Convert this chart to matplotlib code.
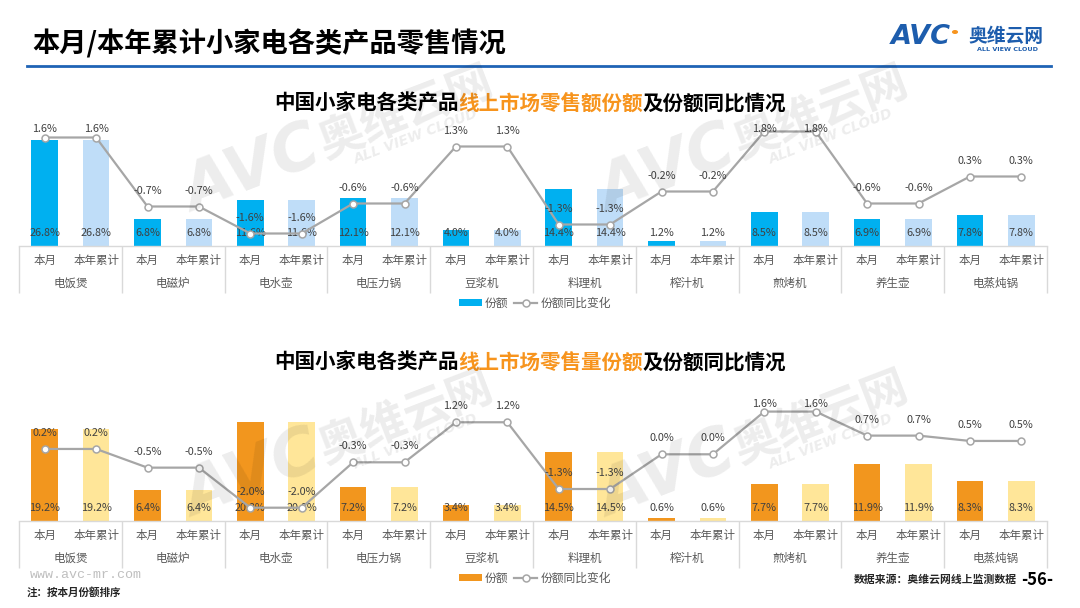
import matplotlib
matplotlib.use('Agg')
import matplotlib.pyplot as plt
import numpy as np
import matplotlib.transforms as mtransforms
from matplotlib.offsetbox import TextArea, HPacker, AnchoredOffsetbox
from matplotlib.lines import Line2D
from matplotlib.patches import Patch, Circle

plt.rcParams['font.family'] = ['Noto Sans CJK SC', 'DejaVu Sans']

# ---------------- data ----------------
categories = ['电饭煲', '电磁炉', '电水壶', '电压力锅', '豆浆机',
              '料理机', '榨汁机', '煎烤机', '养生壶', '电蒸炖锅']
periods = ['本月', '本年累计']

amount_share_month = [26.8, 6.8, 11.6, 12.1, 4.0, 14.4, 1.2, 8.5, 6.9, 7.8]
amount_share_ytd = [26.8, 6.8, 11.6, 12.1, 4.0, 14.4, 1.2, 8.5, 6.9, 7.8]
amount_yoy_month = [1.6, -0.7, -1.6, -0.6, 1.3, -1.3, -0.2, 1.8, -0.6, 0.3]
amount_yoy_ytd = [1.6, -0.7, -1.6, -0.6, 1.3, -1.3, -0.2, 1.8, -0.6, 0.3]

volume_share_month = [19.2, 6.4, 20.8, 7.2, 3.4, 14.5, 0.6, 7.7, 11.9, 8.3]
volume_share_ytd = [19.2, 6.4, 20.8, 7.2, 3.4, 14.5, 0.6, 7.7, 11.9, 8.3]
volume_yoy_month = [0.2, -0.5, -2.0, -0.3, 1.2, -1.3, 0.0, 1.6, 0.7, 0.5]
volume_yoy_ytd = [0.2, -0.5, -2.0, -0.3, 1.2, -1.3, 0.0, 1.6, 0.7, 0.5]

# ---------------- styles ----------------
W, H = 1080, 608
BLUE_M, BLUE_Y = '#00B0F0', '#BFDDF8'
ORANGE_M, ORANGE_Y = '#F2961E', '#FFE699'
LINE_C = '#A6A6A6'
TXT = '#595959'
VAL = '#404040'
TITLE_ORANGE = '#F7941D'
PT = 0.72  # points per pixel at 100 dpi

fig = plt.figure(figsize=(W / 100, H / 100), dpi=100)


def fx(px):
    return px / W


def fy(py):
    return 1 - py / H


def panel(top_px, bottom_px, month, ytd, yoy_m, yoy_y, c_m, c_y,
          bar_ymax, line_ylim, clamp_px, title_parts, title_y, legend_y):
    ax = fig.add_axes([fx(19), fy(bottom_px), fx(1047) - fx(19),
                       (bottom_px - top_px) / H])
    ax.patch.set_alpha(0)
    n = len(categories)
    x = np.arange(2 * n)
    heights = np.ravel(np.column_stack([month, ytd]))
    yoy = np.ravel(np.column_stack([yoy_m, yoy_y]))
    colors = [c_m, c_y] * n
    ax.bar(x, heights, width=0.52, color=colors, zorder=2)
    ax.set_xlim(-0.5, 2 * n - 0.5)
    ax.set_ylim(0, bar_ymax)
    ax.set_yticks([])
    ax.set_xticks([])
    for s in ['top', 'left', 'right']:
        ax.spines[s].set_visible(False)
    ax.spines['bottom'].set_color('#D9D9D9')
    ax.spines['bottom'].set_linewidth(1)

    ax2 = ax.twinx()
    ax2.set_ylim(*line_ylim)
    ax2.set_yticks([])
    for s in ax2.spines.values():
        s.set_visible(False)
    ax2.plot(x, yoy, color=LINE_C, lw=1.6, marker='o', ms=5,
             mfc='white', mec=LINE_C, mew=1.1, zorder=3)

    # bar value labels (at bar base)
    for xi, h in zip(x, heights):
        ax.annotate(f'{h:.1f}%', xy=(xi, 0), xytext=(0, 13 * PT),
                    textcoords='offset points', ha='center', va='center',
                    fontsize=7.8, color=VAL, zorder=4)
    # line value labels, kept inside the plot area like the original
    limit_disp = H - clamp_px
    for xi, v in zip(x, yoy):
        marker_disp = ax2.transData.transform((xi, v))[1]
        off_px = min(16.0, limit_disp - marker_disp)
        ax2.annotate(f'{v:.1f}%', xy=(xi, v), xytext=(0, off_px * PT),
                     textcoords='offset points', ha='center', va='center',
                     fontsize=7.8, color=VAL, zorder=4)

    # period tick labels and group labels
    trans = mtransforms.blended_transform_factory(ax.transData, ax.transAxes)
    for xi, lab in zip(x, periods * n):
        ax.annotate(lab, xy=(xi, 0), xycoords=trans, xytext=(0, -14.8 * PT),
                    textcoords='offset points', ha='center', va='center',
                    fontsize=8.3, color=TXT)
    for i, cat in enumerate(categories):
        ax.annotate(cat, xy=(2 * i + 0.5, 0), xycoords=trans,
                    xytext=(0, -37.3 * PT), textcoords='offset points',
                    ha='center', va='center', fontsize=8.3, color=TXT)
    ax_h = bottom_px - top_px
    ax.vlines(np.arange(0, 2 * n + 1, 2) - 0.5, -47 / ax_h, 0,
              transform=trans, colors='#D9D9D9', lw=1, clip_on=False)

    # title with mixed colours
    areas = [TextArea(t, textprops=dict(color=c, fontsize=14.8, fontweight='bold'))
             for t, c in title_parts]
    box = HPacker(children=areas, align='baseline', pad=0, sep=0)
    anchored = AnchoredOffsetbox(loc='center', child=box, pad=0, borderpad=0,
                                 frameon=False,
                                 bbox_to_anchor=(fx(530), fy(title_y)),
                                 bbox_transform=fig.transFigure)
    fig.add_artist(anchored)

    # legend
    handles = [Patch(facecolor=c_m, edgecolor='none'),
               Line2D([], [], color=LINE_C, lw=1.6, marker='o', ms=5,
                      mfc='white', mec=LINE_C, mew=1.1)]
    fig.legend(handles, ['份额', '份额同比变化'], loc='center',
               bbox_to_anchor=(fx(535), fy(legend_y)), ncol=2, frameon=False,
               fontsize=8.5, labelcolor=TXT, handlelength=1.9, handleheight=0.6,
               handletextpad=0.3, columnspacing=0.5, borderaxespad=0, borderpad=0)
    return ax


# top panel: amount share
panel(118, 246, amount_share_month, amount_share_ytd,
      amount_yoy_month, amount_yoy_ytd, BLUE_M, BLUE_Y,
      128 / 3.96, (-60.5 / 30, 67.5 / 30), 129,
      [('中国小家电各类产品', 'black'), ('线上市场零售额份额', TITLE_ORANGE),
       ('及份额同比情况', 'black')], 103, 303)

# bottom panel: volume share
panel(395, 521, volume_share_month, volume_share_ytd,
      volume_yoy_month, volume_yoy_ytd, ORANGE_M, ORANGE_Y,
      126 / 4.77, (-66.7 / 26.7, 59.3 / 26.7), 404,
      [('中国小家电各类产品', 'black'), ('线上市场零售量份额', TITLE_ORANGE),
       ('及份额同比情况', 'black')], 362, 578)

# ---------------- header ----------------
fig.text(fx(32), fy(44), '本月/本年累计小家电各类产品零售情况', fontsize=19.6,
         fontweight='bold', color='black', ha='left', va='center')
fig.add_artist(Line2D([fx(27), fx(1051)], [fy(66), fy(66)], color='#1F63B5',
                      lw=2.0, transform=fig.transFigure))
# logo
fig.text(fx(891), fy(37), 'AVC', fontsize=19.5, fontweight='bold', style='italic',
         color='#1D5DAD', family='DejaVu Sans', ha='left', va='center')
fig.add_artist(Circle((fx(955), fy(32)), 2.3 / W, color='#F7941D',
                      transform=fig.transFigure))
fig.text(fx(1006), fy(36), '奥维云网', fontsize=13.5, fontweight='bold',
         color='#1D5DAD', ha='center', va='center')
fig.text(fx(1007), fy(49.5), 'ALL VIEW CLOUD', fontsize=4.6, fontweight='bold',
         color='#1D5DAD', family='DejaVu Sans', ha='center', va='center')

# ---------------- watermarks ----------------
for cx, cy in [(318, 146), (733, 146), (318, 451), (733, 451)]:
    fig.text(fx(cx), fy(cy), 'AVC', fontsize=46, fontweight='bold',
             style='italic', family='DejaVu Sans', color='black', alpha=0.075,
             rotation=21, ha='right', va='center', zorder=20,
             rotation_mode='anchor')
    fig.text(fx(cx + 2), fy(cy), '奥维云网', fontsize=33, fontweight='bold',
             color='black', alpha=0.075, rotation=21, ha='left', va='center',
             zorder=20, rotation_mode='anchor')
    fig.text(fx(cx + 98), fy(cy - 9), 'ALL VIEW CLOUD', fontsize=10,
             fontweight='bold', style='italic', family='DejaVu Sans',
             color='black', alpha=0.075, rotation=21, ha='center', va='center',
             zorder=20, rotation_mode='anchor')

# ---------------- footer ----------------
fig.text(fx(30), fy(575), 'www.avc-mr.com', fontsize=9.6, family='Liberation Mono',
         color='#BFBFBF', ha='left', va='center')
fig.text(fx(27), fy(592), '注：按本月份额排序', fontsize=7.6, fontweight='bold',
         color='#262626', ha='left', va='center')
fig.text(fx(1017), fy(580), '数据来源：奥维云网线上监测数据', fontsize=7.8,
         fontweight='bold', color='#262626', ha='right', va='center')
fig.text(fx(1037), fy(580), '-56-', fontsize=12, fontweight='bold',
         color='black', ha='center', va='center')

fig.savefig('out.png', dpi=100)
